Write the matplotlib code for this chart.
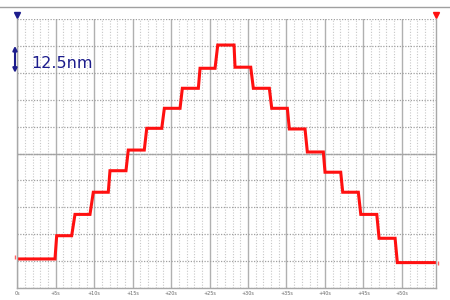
import matplotlib.pyplot as plt
from matplotlib.lines import Line2D
from matplotlib.ticker import MultipleLocator, NullFormatter

# step plateaus: start time, end time (s), level (nm)
step_start = [0.0, 5.12, 7.50, 9.88, 12.05, 14.43, 16.83, 19.12, 21.46, 23.76, 26.06,
              28.31, 30.69, 33.08, 35.37, 37.71, 40.01, 42.31, 44.66, 47.04, 49.41]
step_end = [4.90, 7.07, 9.45, 11.83, 14.13, 16.51, 18.78, 21.16, 23.54, 25.71, 28.18,
            30.35, 32.77, 35.11, 37.41, 39.79, 42.05, 44.34, 46.74, 49.12, 54.32]
step_level = [13.5, 24.3, 34.2, 44.5, 54.5, 64.1, 74.2, 83.5, 92.8, 102.1, 112.9,
              102.6, 92.8, 83.5, 73.9, 63.2, 53.8, 44.5, 34.2, 23.1, 11.8]
tick_labels = ['0s', '+5s', '+10s', '+15s', '+20s', '+25s',
               '+30s', '+35s', '+40s', '+45s', '+50s']

t = []
z = []
for s, e, v in zip(step_start, step_end, step_level):
    t += [s, e]
    z += [v, v]

fig = plt.figure(figsize=(4.5, 3), dpi=100)
ax = fig.add_axes([17.3 / 450, 12 / 300, 418.4 / 450, 269 / 300])

ax.set_xlim(0, 54.4)
ax.set_ylim(0, 125)

# grid: solid every 5 s, dotted every 1 s, dotted every division with solid centre
ax.xaxis.set_major_locator(MultipleLocator(5))
ax.xaxis.set_minor_locator(MultipleLocator(1))
ax.yaxis.set_major_locator(MultipleLocator(12.5))
ax.yaxis.set_major_formatter(NullFormatter())
ax.grid(which='major', axis='x', color='#b0b0b0', lw=1.0, ls='-')
ax.grid(which='minor', axis='x', color='#c8c8c8', lw=0.8, ls=(0, (1, 1.5)))
ax.grid(which='major', axis='y', color='#a0a0a0', lw=0.9, ls=(0, (1, 1.2)))
ax.axhline(62.5, color='#a8a8a8', lw=1.0, zorder=0.5)
ax.set_axisbelow(True)

for side in ['left', 'bottom', 'right']:
    ax.spines[side].set_color('#a8a8a8')
    ax.spines[side].set_linewidth(1.0)
ax.spines['top'].set_visible(False)

ax.plot(t, z, color='#ff1010', lw=2.2, solid_joinstyle='miter')

ax.set_xticks(range(0, 55, 5))
ax.set_xticklabels(tick_labels, fontsize=3.5, color='#666666')
ax.tick_params(axis='both', which='both', length=0, pad=2)

# scale bar
ax.annotate('', xy=(-0.3, 100), xytext=(-0.3, 112.5),
            arrowprops=dict(arrowstyle='<|-|>', color='#1c1c8c', lw=1.5,
                            mutation_scale=6, shrinkA=0, shrinkB=0),
            annotation_clip=False)
ax.text(1.75, 104.5, '12.5nm', fontsize=11.5, color='#1c1c8c', va='center', ha='left')

# cursor markers
xt = ax.get_xaxis_transform()
ax.plot([0], [1.016], marker='v', color='#1c1c8c', ms=4, transform=xt, clip_on=False)
ax.plot([54.4], [1.016], marker='v', color='#ff1010', ms=4, transform=xt, clip_on=False)
ax.plot([-0.35], [14.5], marker='|', color='#ff6060', ms=3, clip_on=False)
ax.plot([54.75], [11.8], marker='|', color='#ff6060', ms=3, clip_on=False)

fig.add_artist(Line2D([0, 1], [1 - 7 / 300] * 2, color='#a0a0a0', lw=1.0,
                      transform=fig.transFigure))

plt.savefig('out.png', dpi=100)
